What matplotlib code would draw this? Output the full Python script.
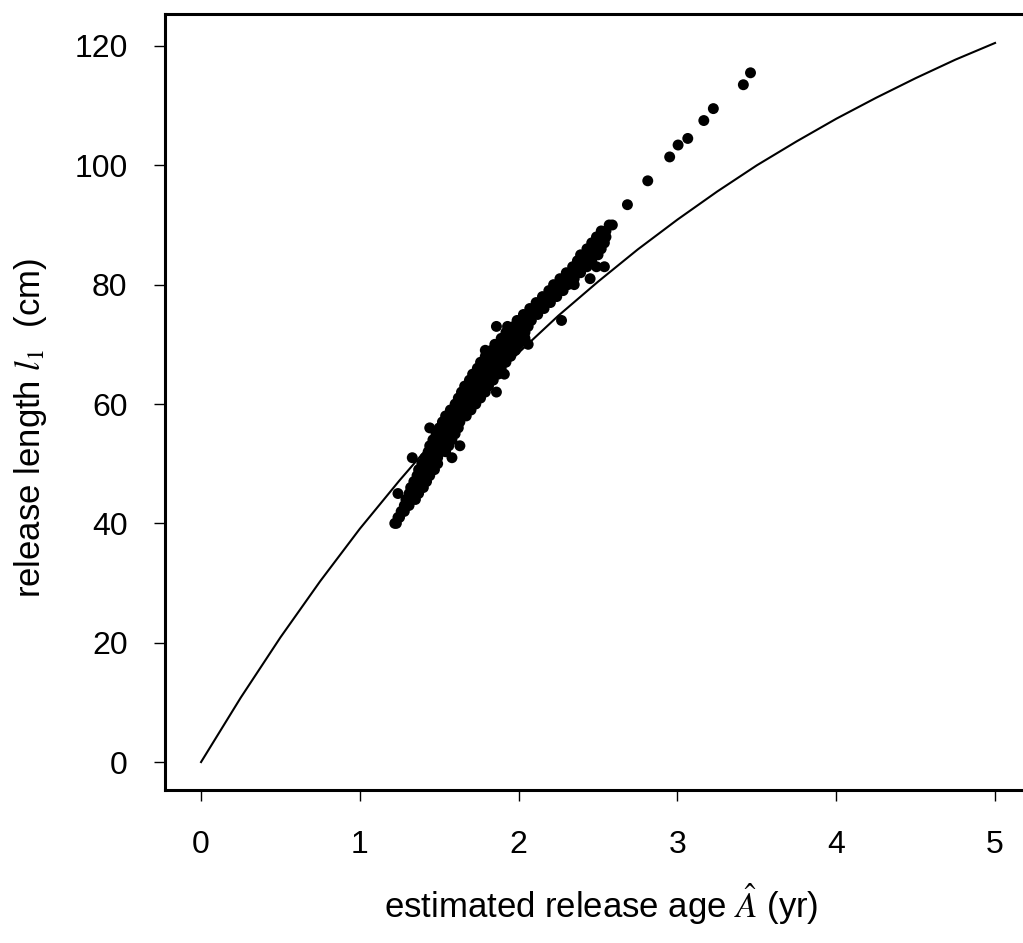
import numpy as np
import matplotlib
matplotlib.use("Agg")
import matplotlib.pyplot as plt

plt.rcParams['font.family'] = ['Liberation Sans', 'DejaVu Sans']
plt.rcParams['mathtext.fontset'] = 'stix'

# release length (cm) -> estimated ages, one row per length
band = {
    40: [1.22, 1.23],
    41: [1.24, 1.25],
    42: [1.26, 1.28],
    43: [1.28, 1.30, 1.31],
    44: [1.29, 1.31, 1.33, 1.35],
    45: [1.24, 1.31, 1.33, 1.35, 1.37],
    46: [1.32, 1.34, 1.36, 1.38, 1.40],
    47: [1.34, 1.36, 1.38, 1.40, 1.42],
    48: [1.36, 1.38, 1.40, 1.42, 1.44],
    49: [1.37, 1.39, 1.41, 1.43, 1.45, 1.47],
    50: [1.39, 1.41, 1.43, 1.45, 1.47, 1.49],
    51: [1.33, 1.41, 1.43, 1.45, 1.47, 1.49, 1.58],
    52: [1.43, 1.45, 1.47, 1.49, 1.51, 1.54],
    53: [1.44, 1.47, 1.49, 1.51, 1.53, 1.56, 1.63],
    54: [1.46, 1.49, 1.51, 1.53, 1.55, 1.58],
    55: [1.48, 1.51, 1.53, 1.55, 1.57, 1.60],
    56: [1.44, 1.50, 1.53, 1.55, 1.57, 1.59, 1.62],
    57: [1.52, 1.54, 1.56, 1.58, 1.60, 1.63],
    58: [1.54, 1.57, 1.59, 1.61, 1.64, 1.67],
    59: [1.57, 1.60, 1.62, 1.64, 1.67, 1.70],
    60: [1.60, 1.62, 1.65, 1.67, 1.70, 1.73],
    61: [1.62, 1.65, 1.67, 1.70, 1.73, 1.76],
    62: [1.64, 1.67, 1.70, 1.73, 1.76, 1.79, 1.86],
    63: [1.66, 1.69, 1.72, 1.75, 1.78, 1.81],
    64: [1.69, 1.72, 1.75, 1.78, 1.81, 1.84],
    65: [1.71, 1.74, 1.77, 1.80, 1.83, 1.87, 1.91],
    66: [1.74, 1.77, 1.80, 1.83, 1.86, 1.89],
    67: [1.76, 1.79, 1.82, 1.85, 1.88, 1.92],
    68: [1.79, 1.82, 1.85, 1.88, 1.91, 1.95],
    69: [1.79, 1.83, 1.86, 1.89, 1.92, 1.95, 1.98],
    70: [1.85, 1.88, 1.91, 1.94, 1.97, 2.00, 2.06],
    71: [1.89, 1.92, 1.95, 1.98, 2.01, 2.04],
    72: [1.92, 1.95, 1.98, 2.01, 2.04],
    73: [1.86, 1.93, 1.97, 2.00, 2.03, 2.06],
    74: [1.99, 2.02, 2.05, 2.08, 2.27],
    75: [2.03, 2.06, 2.09, 2.12],
    76: [2.07, 2.10, 2.13, 2.16],
    77: [2.11, 2.14, 2.17, 2.20],
    78: [2.15, 2.18, 2.21, 2.24],
    79: [2.19, 2.22, 2.25, 2.28],
    80: [2.22, 2.25, 2.28, 2.31, 2.35],
    81: [2.26, 2.29, 2.32, 2.35, 2.45],
    82: [2.30, 2.33, 2.36, 2.39],
    83: [2.34, 2.37, 2.40, 2.43, 2.49, 2.54],
    84: [2.37, 2.40, 2.43, 2.46],
    85: [2.39, 2.42, 2.45, 2.48, 2.50],
    86: [2.43, 2.46, 2.49, 2.52],
    87: [2.46, 2.49, 2.52, 2.54],
    88: [2.49, 2.52, 2.55],
    89: [2.52, 2.55],
    90: [2.57, 2.59],
}

# sparse large fish
big_age = [2.685, 2.813, 2.951, 3.004, 3.065, 3.166, 3.226, 3.415, 3.46]
big_length = [93.4, 97.4, 101.4, 103.4, 104.5, 107.5, 109.5, 113.5, 115.5]

release_age = [a for L, ages in band.items() for a in ages] + big_age
release_length = [L for L, ages in band.items() for a in ages] + big_length

# fitted growth curve
curve_age = [0, 0.25, 0.5, 0.75, 1, 1.25, 1.5, 1.75, 2, 2.25, 2.5,
             2.75, 3, 3.25, 3.5, 3.75, 4, 4.25, 4.5, 4.75, 5]
curve_length = [0, 10.8, 20.9, 30.3, 39.1, 47.2, 54.9, 62.0, 68.6, 74.8, 80.5,
                85.9, 90.9, 95.6, 100.0, 104.0, 107.8, 111.3, 114.6, 117.7, 120.5]

x_ticks = [0, 1, 2, 3, 4, 5]
y_ticks = [0, 20, 40, 60, 80, 100, 120]

fig = plt.figure(figsize=(10.23, 9.43), dpi=100)
ax = fig.add_axes([0.1613, 0.1622, 0.8387, 0.823])

ax.plot(curve_age, curve_length, color='black', lw=1.5)
ax.scatter(release_age, release_length, s=62, color='black', edgecolors='none', zorder=3)

ax.set_xlim(-0.227, 5.176)
ax.set_ylim(-4.69, 125.36)
ax.set_xticks(x_ticks)
ax.set_yticks(y_ticks)

for s in ['left', 'bottom', 'top']:
    ax.spines[s].set_linewidth(2.2)
ax.spines['right'].set_visible(False)

ax.tick_params(axis='both', direction='out', length=8, width=1.0, labelsize=23)
ax.tick_params(axis='y', pad=19)
ax.tick_params(axis='x', pad=21)

ax.set_xlabel(r'estimated release age $\hat{A}$ (yr)', fontsize=25, va='baseline')
ax.xaxis.set_label_coords(0.509, -0.165)
ax.set_ylabel(r'release length $l_1$  (cm)', fontsize=25)
ax.yaxis.set_label_coords(-0.135, 0.466)

fig.savefig('out.png', dpi=100)
